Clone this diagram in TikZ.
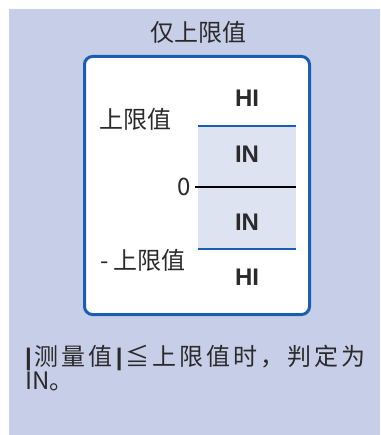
\documentclass[tikz,border=0pt]{standalone}
\usepackage{fontspec}
\newfontfamily\cjk{Noto Sans CJK SC}
\newfontfamily\arialfont{Liberation Sans}
\definecolor{pagebg}{HTML}{C7CFE8}
\definecolor{bandfill}{HTML}{DEE3F2}
\definecolor{frameblue}{HTML}{1A5EAF}
\definecolor{inkgray}{HTML}{2A2A2A}
\tikzset{
  cjklabel/.style={
    inner sep=0pt,
    text=inkgray,
    font=\cjk\fontsize{24}{28}\selectfont,
  },
  % judgement zones: bold sans
  zonelabel/.style={
    inner sep=0pt,
    text=inkgray,
    font=\arialfont\bfseries\fontsize{24}{28}\selectfont,
  },
  framebox/.style={draw=frameblue, line width=3pt, fill=white, rounded corners=8pt},
  limitline/.style={draw=frameblue, line width=2pt},
  zeroline/.style={draw=black, line width=2pt},
}

\begin{document}
\begin{tikzpicture}[x=1pt, y=-1pt]
  \useasboundingbox (0,0) rectangle (380,435);
  \fill[pagebg] (9,9) rectangle (380,435);

  \node[cjklabel] (title) at (198,32) {仅上限值};

  \draw[framebox] (84.5,56.5) rectangle (309.5,314.5);

  % --- band between the limits ---
  \coordinate (hiL) at (198,126);
  \coordinate (hiR) at (296,126);
  \coordinate (zeroL) at (195,187);
  \coordinate (zeroR) at (296,187);
  \coordinate (loL) at (198,249);
  \coordinate (loR) at (296,249);
  \fill[bandfill] (hiL) rectangle (loR);
  \draw[limitline] (hiL) -- (hiR);
  \draw[limitline] (loL) -- (loR);
  \draw[zeroline] (zeroL) -- (zeroR);

  \node[zonelabel] (hiTop) at (247,98) {HI};
  \node[zonelabel] (inTop) at (247,154) {IN};
  \node[zonelabel] (inBot) at (247,222) {IN};
  \node[zonelabel] (hiBot) at (247,277) {HI};

  \node[cjklabel, anchor=west] (upper) at (99,119) {上限值};
  \node[cjklabel, anchor=east] (zero) at (191,187) {0};
  \node[cjklabel, anchor=west] (lower) at (100,260) {- 上限值};

  % --- note ---
  \node[cjklabel, anchor=base west] (note1) at (25,365)
    {\makebox[340pt][s]{{\arialfont\bfseries |}\hfill 测\hfill 量\hfill 值\hfill {\arialfont\bfseries |}\hfill ≦\hfill 上\hfill 限\hfill 值\hfill 时\hfill ，\hfill 判\hfill 定\hfill 为}};
  \node[cjklabel, anchor=base west] (note2) at (25,389) {IN。};
\end{tikzpicture}
\end{document}
